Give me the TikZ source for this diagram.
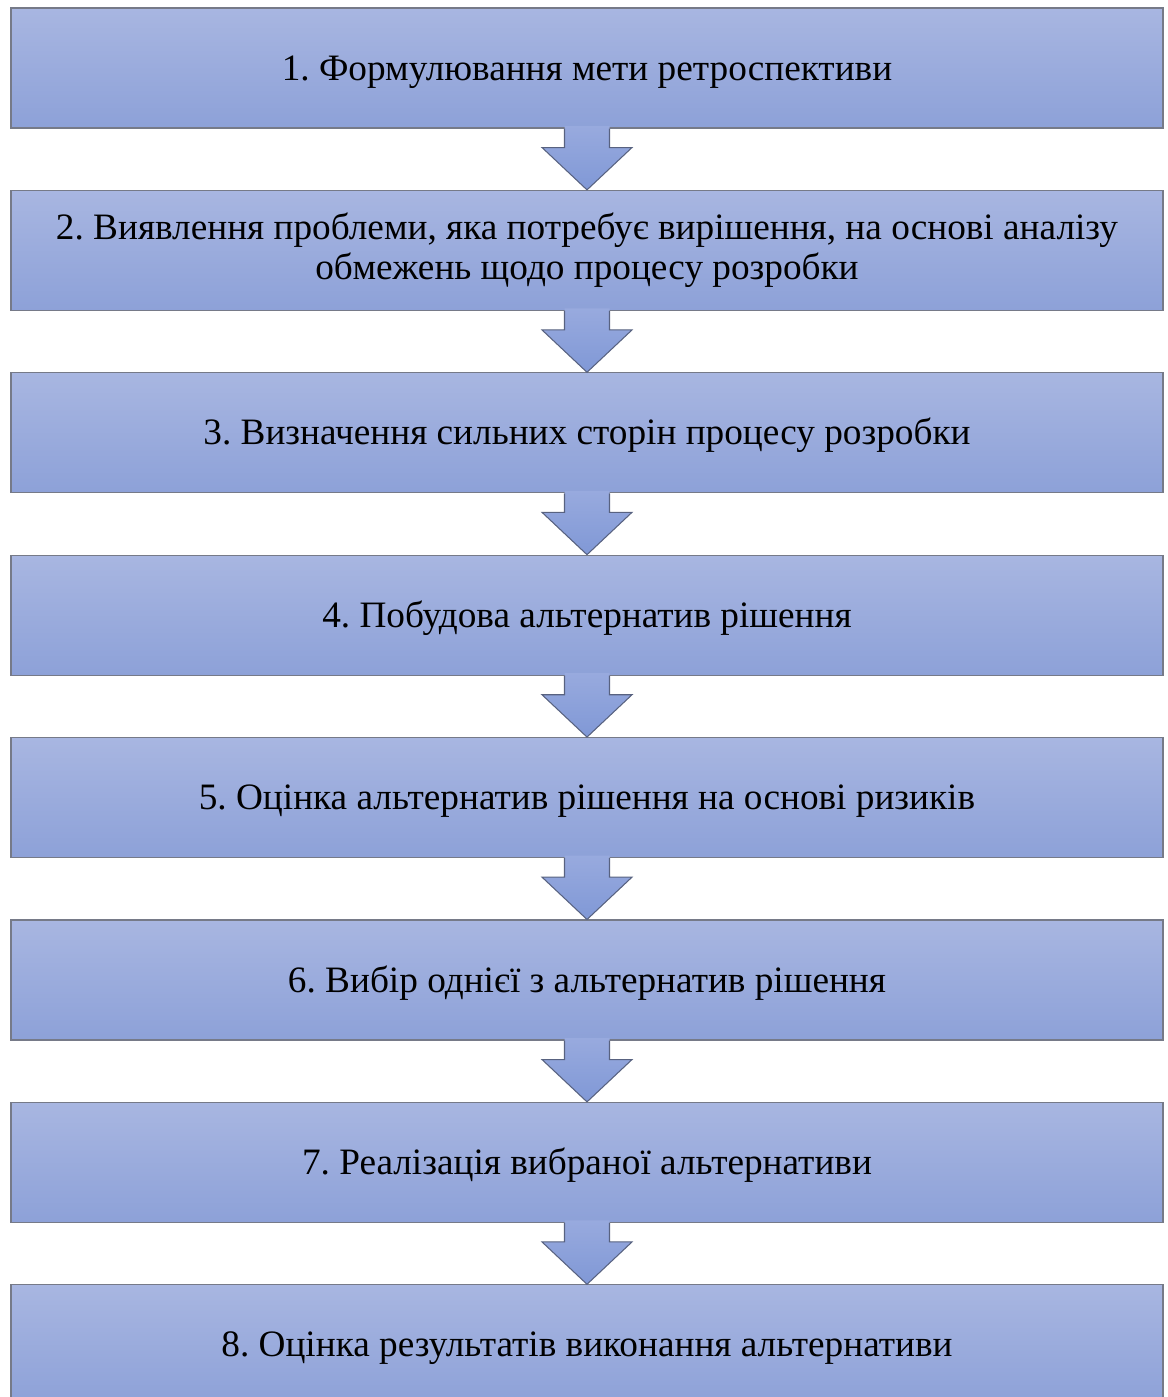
\documentclass[tikz,border=0pt]{standalone}
\usepackage{fontspec}
\setmainfont{Liberation Serif}
\usetikzlibrary{calc}
\frenchspacing

\definecolor{boxtop}{RGB}{168,182,225}
\definecolor{boxbottom}{RGB}{141,161,216}
\definecolor{boxline}{RGB}{118,122,136}
\definecolor{arrowtop}{RGB}{152,170,222}
\definecolor{arrowbottom}{RGB}{128,152,214}
\definecolor{arrowline}{RGB}{88,98,128}

% block arrow from one step to the next
\newcommand{\steparrow}[2]{%
  \shade[arrowfill] ($(#1.south)+(-0.45,0.05)$) -- ++(0,-0.43) -- ++(-0.45,0) -- (#2.north)
    -- ($(#1.south)+(0.9,-0.38)$) -- ++(-0.45,0) -- ++(0,0.43) -- cycle;
  \draw[arrowedge] ($(#1.south)+(-0.45,0)$) -- ++(0,-0.38) -- ++(-0.45,0) -- (#2.north)
    -- ($(#1.south)+(0.9,-0.38)$) -- ++(-0.45,0) -- ++(0,0.38);
}

\begin{document}
\begin{tikzpicture}[
    box/.style={draw=boxline, line width=0.6pt, top color=boxtop, bottom color=boxbottom,
      minimum width=23.04cm, minimum height=2.4cm, inner sep=0pt, align=center,
      text height=0.62cm, text depth=0.14cm,
      font=\fontsize{21.2}{22.9}\selectfont},
    arrowfill/.style={top color=arrowtop, bottom color=arrowbottom},
    arrowedge/.style={draw=arrowline, line width=0.6pt, line join=miter}
]
\useasboundingbox (0,0) rectangle (23.36,-27.94);

% Etapy
\node[box] (s1) at (11.74,-1.36) {1. Формулювання мети ретроспективи};
\node[box, text height={}, text depth={}] (s2) at (11.74,-5.008) {2. Виявлення проблеми, яка потребує вирішення, на основі аналізу\\обмежень щодо процесу розробки};
\node[box] (s3) at (11.74,-8.656) {3. Визначення сильних сторін процесу розробки};
\node[box] (s4) at (11.74,-12.304) {4. Побудова альтернатив рішення};
\node[box] (s5) at (11.74,-15.952) {5. Оцінка альтернатив рішення на основі ризиків};
\node[box] (s6) at (11.74,-19.6) {6. Вибір однієї з альтернатив рішення};
\node[box] (s7) at (11.74,-23.248) {7. Реалізація вибраної альтернативи};
\node[box] (s8) at (11.74,-26.896) {8. Оцінка результатів виконання альтернативи};

% Стрілки
\steparrow{s1}{s2}
\steparrow{s2}{s3}
\steparrow{s3}{s4}
\steparrow{s4}{s5}
\steparrow{s5}{s6}
\steparrow{s6}{s7}
\steparrow{s7}{s8}

\end{tikzpicture}
\end{document}
